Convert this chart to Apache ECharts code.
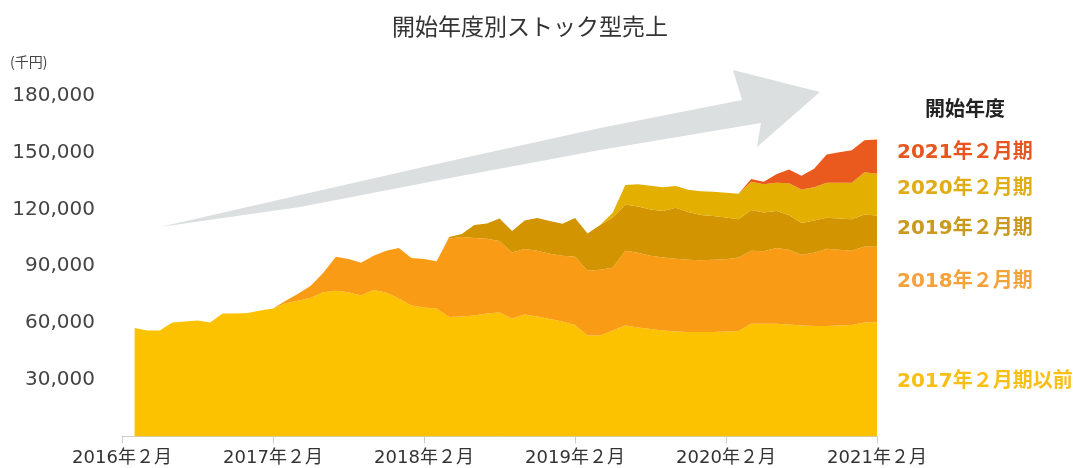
<!DOCTYPE html>
<html>
<head>
<meta charset="utf-8">
<script src="https://cdn.jsdelivr.net/npm/echarts/dist/echarts.min.js"></script>
<style>
  html, body { margin: 0; padding: 0; background: #fff; }
  #chart { width: 1077px; height: 468px; }
</style>
</head>
<body>
<div id="chart"></div>
<script>
'use strict';

// 2016年3月 .. 2021年2月 (千円), null = not started yet
var s2017 = [
  57300, 56100, 56100, 60300, 60800, 61300, 60300, 65000, 65000, 65300, 66600, 67600,
  70500, 71800, 73400, 76300, 77100, 76300, 74500, 77400, 76100, 72900, 69200, 68200,
  67600, 63200, 63400, 63900, 65000, 65500, 62400, 64500, 63400, 62100, 60800, 58900,
  53400, 53400, 56100, 58700, 57600, 56800, 56100, 55500, 55300, 55200, 55200, 55500,
  55800, 59600, 59600, 59600, 59200, 58700, 58400, 58400, 58700, 58900, 60300, 60400
];
var s2018 = [
  null, null, null, null, null, null, null, null, null, null, null, 0,
  1300, 3700, 6300, 10300, 17900, 17500, 17300, 18100, 22100, 26700, 25100, 25600,
  25000, 41500, 42100, 41100, 39500, 37900, 34900, 34600, 34800, 34500, 34700, 36100,
  34200, 34800, 33100, 39500, 39500, 38700, 38500, 38400, 38100, 38000, 38200, 38200,
  38800, 38600, 38300, 40100, 39500, 37400, 38700, 40800, 40000, 39300, 40200, 39900
];
var s2019 = [
  null, null, null, null, null, null, null, null, null, null, null, null,
  null, null, null, null, null, null, null, null, null, null, null, null,
  0, 800, 1600, 6800, 8100, 11900, 11400, 15100, 17300, 17300, 17000, 20500,
  19700, 23600, 26500, 24400, 24500, 24500, 24600, 27000, 25300, 23900, 23200, 22100,
  20200, 21500, 20500, 19500, 18400, 16800, 17100, 16500, 16600, 16600, 16900, 16500
];
var s2020 = [
  null, null, null, null, null, null, null, null, null, null, null, null,
  null, null, null, null, null, null, null, null, null, null, null, null,
  null, null, null, null, null, null, null, null, null, null, null, null,
  null, 0, 2600, 10300, 11800, 12600, 12600, 11500, 11800, 12600, 12800, 13100,
  13500, 15000, 15000, 14900, 16800, 17700, 17600, 18400, 18800, 19300, 22300, 22100
];
var s2021 = [
  null, null, null, null, null, null, null, null, null, null, null, null,
  null, null, null, null, null, null, null, null, null, null, null, null,
  null, null, null, null, null, null, null, null, null, null, null, null,
  null, null, null, null, null, null, null, null, null, null, null, null,
  0, 1400, 1300, 4600, 7200, 7300, 9800, 15000, 16200, 17200, 16900, 18100
];

var seriesNames = ['2017年２月期以前', '2018年２月期', '2019年２月期', '2020年２月期', '2021年２月期'];
var areaColors = ['#FCC200', '#F99B14', '#D29400', '#E3AF00', '#EA5A1E'];
var labelColors = ['#F9BF14', '#F6A23A', '#C99A1E', '#E0AD17', '#E8561F'];
var labelY = [381, 281, 228, 188, 152];

var yTicks = [0, 30000, 60000, 90000, 120000, 150000, 180000];

// category labels: 2016年2月 .. 2021年2月
var months = [];
for (var y = 2016; y <= 2021; y++) {
  for (var m = 1; m <= 12; m++) {
    if ((y === 2016 && m < 2) || (y === 2021 && m > 2)) continue;
    months.push(y + '年' + m + '月');
  }
}
// only the year labels are shown
months = months.map(function (s, i) { return i % 12 === 0 ? (2016 + i / 12) + '年２月' : s; });

function toData(arr) {
  // the first category (2016年2月) has no data
  return ['-'].concat(arr.map(function (v) { return v === null ? '-' : v; }));
}

var allData = [s2017, s2018, s2019, s2020, s2021];
var cjk = '"DejaVu Sans", "Noto Sans CJK JP", sans-serif';

var series = allData.map(function (arr, i) {
  return {
    name: seriesNames[i],
    type: 'line',
    stack: 'total',
    data: toData(arr),
    symbol: 'none',
    smooth: false,
    lineStyle: { width: 0, opacity: 0 },
    areaStyle: { color: areaColors[i], opacity: 1 },
    emphasis: { disabled: true },
    z: 3
  };
});

var graphics = [
  {
    type: 'polygon',
    z: 0,
    shape: {
      points: [[160, 227], [300, 195], [450, 161], [600, 128], [742, 100], [733, 70], [820, 92],
               [757, 147], [761, 123], [600, 150], [450, 178], [300, 207]]
    },
    style: { fill: '#DCDFE0' }
  },
  {
    type: 'text', left: 10, top: 55,
    style: { text: '(千円)', fill: '#444', font: '14px "Noto Sans CJK JP", sans-serif' }
  },
  {
    type: 'text', x: 925, y: 108,
    style: { text: '開始年度', fill: '#222', font: 'bold 20px "Noto Sans CJK JP", sans-serif', textVerticalAlign: 'middle' }
  }
];
for (var k = 0; k < seriesNames.length; k++) {
  graphics.push({
    type: 'text', x: 897, y: labelY[k] + 1,
    style: {
      text: seriesNames[k],
      fill: labelColors[k],
      font: 'bold 20px ' + cjk,
      textVerticalAlign: 'middle'
    }
  });
}

var option = {
  animation: false,
  title: {
    text: '開始年度別ストック型売上',
    left: 525,
    top: 10,
    textAlign: 'center',
    textStyle: { fontSize: 23, fontWeight: 'normal', color: '#333', fontFamily: '"Noto Sans CJK JP", sans-serif' }
  },
  grid: { left: 122, right: 200, top: 96, bottom: 31.5 },
  xAxis: {
    type: 'category',
    boundaryGap: false,
    data: months,
    axisLine: { lineStyle: { color: '#ccc', width: 1 } },
    axisTick: { interval: 11, length: 7, lineStyle: { color: '#ccc' } },
    axisLabel: { interval: 11, fontSize: 18, color: '#333', margin: 13, fontFamily: cjk }
  },
  yAxis: {
    type: 'value',
    min: yTicks[0],
    max: yTicks[yTicks.length - 1],
    interval: 30000,
    axisLine: { show: false },
    axisTick: { show: false },
    splitLine: { show: false },
    axisLabel: {
      margin: 27,
      fontSize: 20,
      color: '#444',
      fontFamily: '"DejaVu Sans", sans-serif',
      formatter: function (v) {
        if (v === 0) return '';
        return String(v).replace(/\B(?=(\d{3})+(?!\d))/g, ',');
      }
    }
  },
  graphic: graphics,
  series: series
};

var myChart = echarts.init(document.getElementById('chart'));
myChart.setOption(option);
</script>
</body>
</html>
